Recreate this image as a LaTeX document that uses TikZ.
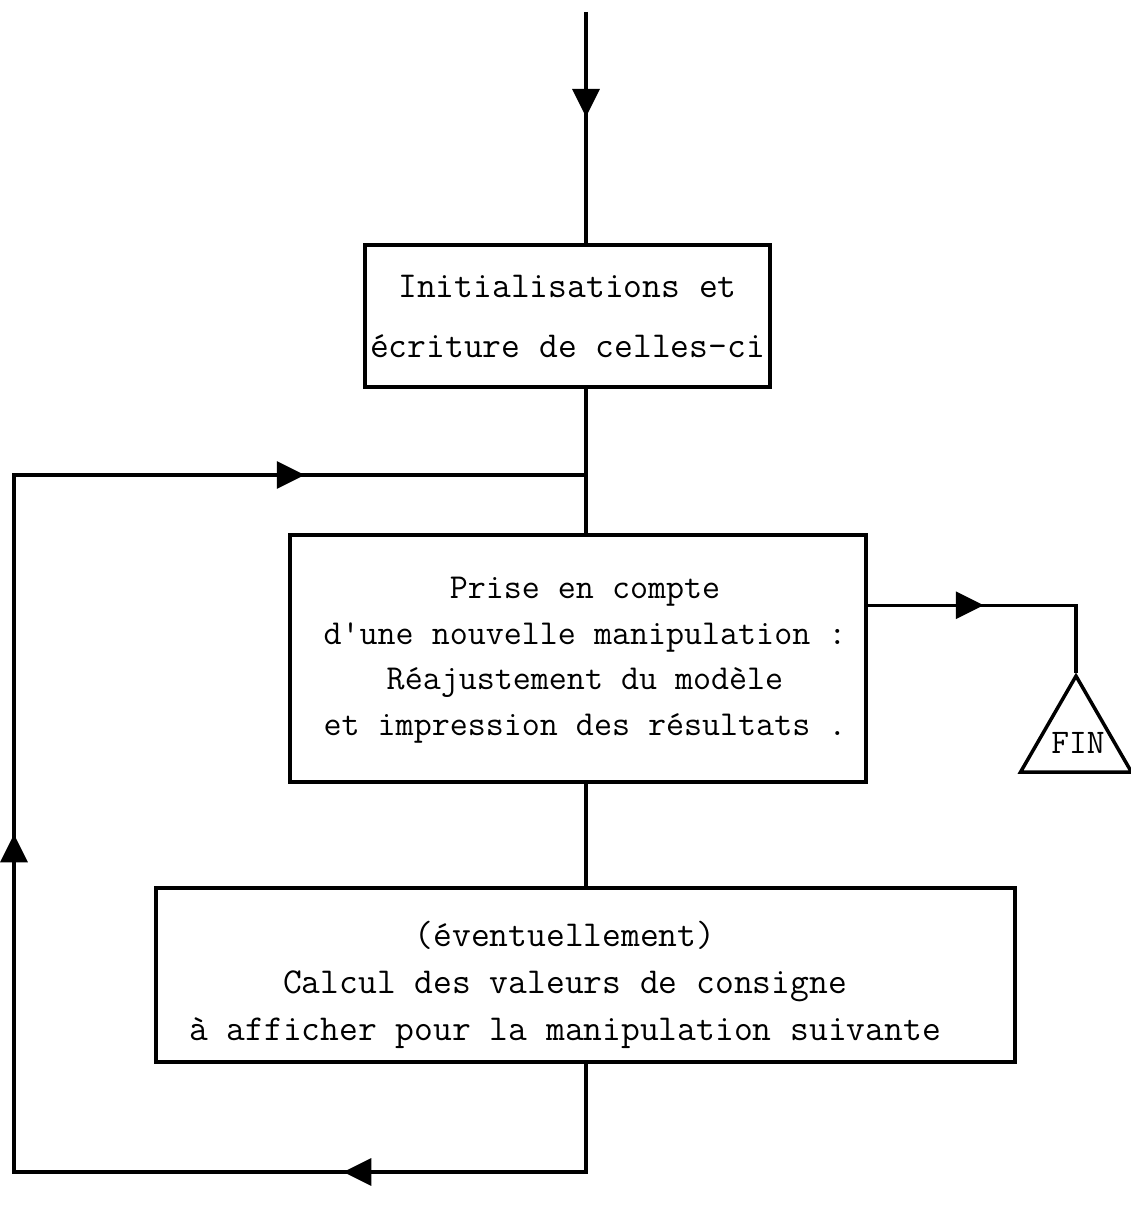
\documentclass[tikz,border=0pt]{standalone}
\usetikzlibrary{arrows.meta,decorations.markings,shapes.geometric,calc}
\tikzset{tri/.tip={Triangle[length=28pt,width=27pt]}}
\begin{document}
\begin{tikzpicture}[x=1pt,y=-1pt,
  line width=3.5pt,
  box/.style={draw,rectangle,align=center,inner sep=0pt,font=\ttfamily},
  txt/.style={align=center,inner sep=0pt},
  midarrow/.style={postaction={decorate,decoration={markings,mark=at position #1 with {\arrow{tri}}}}}
]
\useasboundingbox (0,0) rectangle (1130,1209);

\node[box,minimum width=405pt,minimum height=142pt,font=\ttfamily\fontsize{36.5}{60}\selectfont] (box1) at (567.5,316)
  {Initialisations et\\écriture de celles-ci};
\node[box,minimum width=576pt,minimum height=247pt] (box2) at (578,658.5) {};
\node[txt,font=\ttfamily\fontsize{35}{45.5}\selectfont] (box2txt) at (585,660)
  {Prise en compte\\d'une nouvelle manipulation :\\Réajustement du modèle\\et impression des résultats .};
\node[box,minimum width=859pt,minimum height=174pt] (box3) at (585.5,975) {};
\node[txt,font=\ttfamily\fontsize{36.5}{47}\selectfont] (box3txt) at (565,985)
  {(éventuellement)\\Calcul des valeurs de consigne\\à afficher pour la manipulation suivante};
\node[draw,regular polygon,regular polygon sides=3,minimum size=128pt,inner sep=0pt] (fin) at (1076,740) {};
\node[txt,font=\ttfamily\fontsize{34.5}{34.5}\selectfont] (fintxt) at (1078,743) {FIN};

\coordinate (start) at (586,12);
\coordinate (loopjoin) at (586,475);
\coordinate (b1) at (586,1172);
\coordinate (b2) at (14,1172);
\coordinate (b3) at (14,475);
\coordinate (r1) at ($(box2.north east)+(0,72)$);
\coordinate (r2) at (fin.corner 1 |- r1);

% entry arrow
\draw[midarrow=105pt] (start) -- (start |- box1.north);
% box1 -> box2
\draw (box1.south -| start) -- (box2.north -| start);
% box2 -> box3
\draw (box2.south -| start) -- (box3.north -| start);
% loop back
\draw[postaction={decorate,decoration={markings,
    mark=at position 351pt with {\arrow{tri}},
    mark=at position 1018pt with {\arrow{tri}},
    mark=at position 1668pt with {\arrow{tri}}}}]
  (box3.south -| start) -- (b1) -- (b2) -- (b3) -- (loopjoin);
% exit to FIN
\draw[midarrow=116pt] (r1) -- (r2) -- (fin.corner 1);
\end{tikzpicture}
\end{document}
